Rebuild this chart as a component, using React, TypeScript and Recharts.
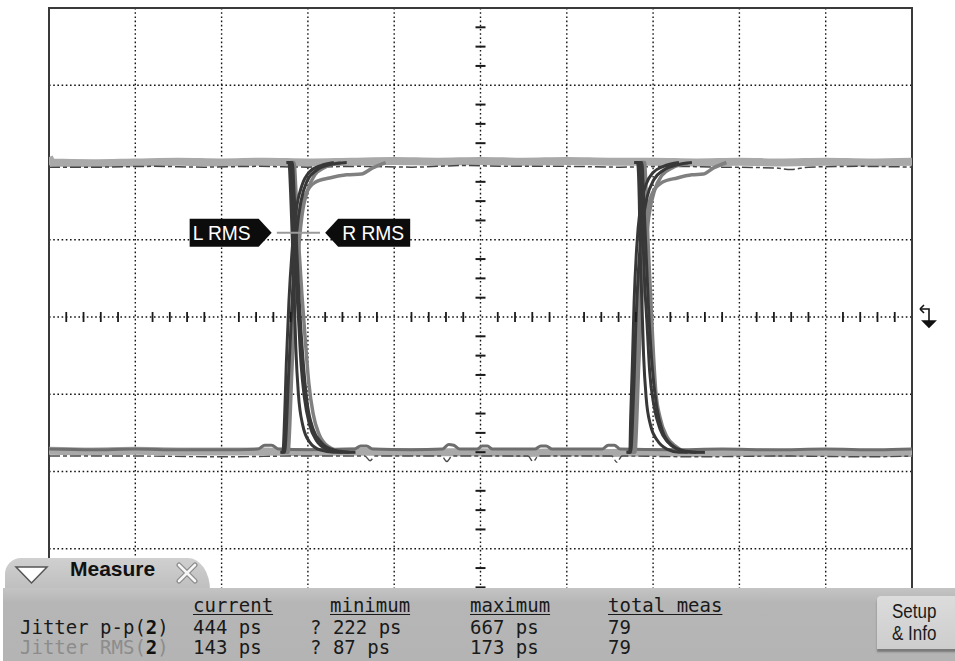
import React from "react";
import {
  ComposedChart,
  Line,
  Scatter,
  XAxis,
  YAxis,
  CartesianGrid,
  ReferenceArea,
  ReferenceDot,
  ReferenceLine,
} from "recharts";

// screen divisions: 10 horizontal, 8 vertical
const xGrid = [0, 1, 2, 3, 4, 5, 6, 7, 8, 9, 10];
const yGrid = [-4, -3, -2, -1, 0, 1, 2, 3, 4];

// minor ticks on the centre axes
const hMinor = [
  0.2, 0.4, 0.6, 0.8, 1.2, 1.4, 1.6, 1.8, 2.2, 2.4, 2.6, 2.8, 3.2, 3.4, 3.6, 3.8,
  4.2, 4.4, 4.6, 4.8, 5.2, 5.4, 5.6, 5.8, 6.2, 6.4, 6.6, 6.8, 7.2, 7.4, 7.6, 7.8,
  8.2, 8.4, 8.6, 8.8, 9.2, 9.4, 9.6, 9.8,
];
const vMinor = [
  -3.75, -3.5, -3.25, -2.75, -2.5, -2.25, -1.75, -1.5, -1.25, -0.75, -0.5, -0.25,
  0.25, 0.5, 0.75, 1.25, 1.5, 1.75, 2.25, 2.5, 2.75, 3.25, 3.5, 3.75,
];

// level bands (x in div, y in div)
const highBand = [
  [0, 2.07], [0.04, 2.0], [0.5, 1.99], [1, 2.0], [1.5, 2.01], [2, 2.0], [2.5, 2.01],
  [3, 2.0], [3.5, 2.01], [4, 2.02], [4.5, 2.01], [5, 2.02], [5.5, 2.01], [6, 2.02],
  [6.5, 2.01], [7, 2.01], [7.5, 2.0], [8, 2.01], [8.5, 2.0], [9, 2.01], [9.5, 2.0], [10, 2.01],
];
const highEdge = [
  [0, 1.94], [0.6, 1.94], [1.2, 1.95], [1.8, 1.94], [2.4, 1.95], [3.0, 1.94], [3.6, 1.95],
  [4.2, 1.94], [4.8, 1.96], [5.4, 1.95], [6.0, 1.95], [6.6, 1.94], [7.2, 1.95], [7.8, 1.94],
  [8.4, 1.93], [8.6, 1.91], [8.8, 1.94], [9.4, 1.95], [10, 1.94],
];
const lowBand = [
  [0, -1.73], [0.5, -1.74], [1, -1.73], [1.5, -1.74], [2, -1.74], [2.5, -1.74], [3, -1.75],
  [3.5, -1.74], [4, -1.75], [4.5, -1.75], [5, -1.75], [5.5, -1.76], [6, -1.75], [6.5, -1.76],
  [7, -1.75], [7.5, -1.76], [8, -1.75], [8.5, -1.76], [9, -1.75], [9.5, -1.76], [10, -1.76],
];
const lowDetail = [
  [0, -1.71], [0.5, -1.72], [1, -1.71], [1.5, -1.72], [2, -1.72], [2.42, -1.71], [2.5, -1.66],
  [2.58, -1.66], [2.66, -1.71], [3.0, -1.72], [3.54, -1.71], [3.61, -1.67], [3.68, -1.67],
  [3.75, -1.71], [4.2, -1.72], [4.56, -1.71], [4.63, -1.65], [4.69, -1.66], [4.76, -1.71],
  [4.96, -1.71], [5.02, -1.67], [5.08, -1.67], [5.14, -1.71], [5.63, -1.71], [5.7, -1.67],
  [5.76, -1.67], [5.83, -1.71], [6.41, -1.71], [6.48, -1.66], [6.55, -1.66], [6.62, -1.71],
  [7.2, -1.72], [7.8, -1.71], [8.4, -1.72], [9.0, -1.71], [9.6, -1.72], [10, -1.71],
];
const lowDips = [
  [0, -1.8], [1, -1.8], [2, -1.81], [2.9, -1.8], [3.66, -1.8], [3.72, -1.86], [3.78, -1.8],
  [4.55, -1.8], [4.61, -1.87], [4.67, -1.8], [5.55, -1.8], [5.61, -1.87], [5.67, -1.8],
  [6.52, -1.8], [6.58, -1.88], [6.64, -1.8], [7.5, -1.81], [8.5, -1.8], [9.5, -1.81], [10, -1.8],
];

// edges around the first crossing
const fall1a = [[2.76, 2.0], [2.8, 2.0], [2.82, 1.7], [2.84, 1.2], [2.86, 0.6], [2.89, 0.0], [2.92, -0.6], [2.96, -1.05], [3.02, -1.4], [3.1, -1.6], [3.22, -1.71], [3.4, -1.75], [3.55, -1.75]];
const fall1b = [[2.8, 2.0], [2.84, 2.0], [2.86, 1.65], [2.89, 1.0], [2.93, 0.3], [2.97, -0.3], [3.01, -0.85], [3.06, -1.25], [3.13, -1.52], [3.24, -1.68], [3.42, -1.75], [3.55, -1.75]];
const fall1c = [[2.75, 2.0], [2.78, 2.0], [2.8, 1.6], [2.82, 1.0], [2.84, 0.3], [2.86, -0.4], [2.89, -1.0], [2.94, -1.4], [3.02, -1.62], [3.14, -1.72], [3.3, -1.75], [3.4, -1.75]];
const fall1d = [[2.79, 2.0], [2.82, 2.0], [2.84, 1.6], [2.87, 0.9], [2.9, 0.2], [2.94, -0.5], [2.99, -1.1], [3.06, -1.45], [3.16, -1.63], [3.3, -1.72], [3.48, -1.75]];
const rise1a = [[2.69, -1.75], [2.73, -1.75], [2.75, -1.45], [2.77, -0.9], [2.8, -0.2], [2.83, 0.5], [2.87, 1.1], [2.92, 1.5], [2.99, 1.76], [3.1, 1.9], [3.25, 1.97], [3.45, 2.0]];
const rise1b = [[2.73, -1.75], [2.77, -1.75], [2.79, -1.4], [2.81, -0.8], [2.84, -0.05], [2.88, 0.7], [2.93, 1.3], [3.0, 1.65], [3.08, 1.84], [3.2, 1.94], [3.38, 2.0]];
const rise1c = [[2.68, -1.75], [2.71, -1.75], [2.73, -1.3], [2.75, -0.6], [2.78, 0.2], [2.82, 0.9], [2.86, 1.35], [2.93, 1.7], [3.02, 1.88], [3.15, 1.96], [3.3, 2.0]];
const rise1d = [[2.71, -1.75], [2.75, -1.75], [2.77, -1.35], [2.79, -0.7], [2.82, 0.1], [2.86, 0.8], [2.91, 1.3], [2.98, 1.6], [3.08, 1.74], [3.25, 1.8], [3.45, 1.84], [3.62, 1.85], [3.75, 1.93], [3.9, 2.0]];

// edges around the second crossing
const fall2a = [[6.8, 2.0], [6.84, 2.0], [6.86, 1.7], [6.88, 1.1], [6.9, 0.5], [6.93, -0.1], [6.96, -0.7], [7.01, -1.15], [7.08, -1.45], [7.17, -1.62], [7.28, -1.71], [7.45, -1.75], [7.6, -1.75]];
const fall2b = [[6.86, 2.0], [6.9, 2.0], [6.92, 1.6], [6.94, 1.0], [6.97, 0.3], [7.0, -0.4], [7.03, -0.95], [7.08, -1.3], [7.16, -1.55], [7.27, -1.68], [7.42, -1.75], [7.6, -1.75]];
const fall2c = [[6.78, 2.0], [6.82, 2.0], [6.84, 1.5], [6.85, 0.9], [6.87, 0.2], [6.89, -0.5], [6.92, -1.05], [6.97, -1.4], [7.05, -1.6], [7.16, -1.71], [7.3, -1.75], [7.4, -1.75]];
const fall2d = [[6.83, 2.0], [6.87, 2.0], [6.89, 1.55], [6.92, 0.8], [6.95, 0.05], [6.99, -0.65], [7.04, -1.15], [7.11, -1.48], [7.21, -1.65], [7.35, -1.73], [7.5, -1.75]];
const rise2a = [[6.7, -1.75], [6.74, -1.75], [6.76, -1.4], [6.78, -0.8], [6.8, -0.1], [6.83, 0.6], [6.87, 1.15], [6.93, 1.55], [7.01, 1.78], [7.12, 1.9], [7.28, 1.97], [7.45, 2.0]];
const rise2b = [[6.75, -1.75], [6.79, -1.75], [6.81, -1.35], [6.83, -0.7], [6.86, 0.05], [6.9, 0.75], [6.95, 1.3], [7.02, 1.65], [7.1, 1.83], [7.22, 1.93], [7.4, 1.99]];
const rise2c = [[6.69, -1.75], [6.73, -1.75], [6.74, -1.3], [6.76, -0.6], [6.78, 0.2], [6.81, 0.9], [6.85, 1.4], [6.92, 1.72], [7.0, 1.87], [7.12, 1.95], [7.3, 2.0]];
const rise2d = [[6.72, -1.75], [6.76, -1.75], [6.78, -1.35], [6.8, -0.7], [6.83, 0.1], [6.87, 0.8], [6.92, 1.3], [6.99, 1.6], [7.1, 1.74], [7.28, 1.8], [7.45, 1.84], [7.58, 1.85], [7.7, 1.93], [7.85, 2.0]];

const darkEdges = [fall1a, fall1c, fall1d, rise1a, rise1c, fall2a, fall2c, fall2d, rise2a, rise2c];
const greyEdges = [fall1b, rise1b, rise1d, fall2b, rise2b, rise2d];

const markers = [
  { text: "L RMS", x: 2.58, y: 1.09, side: "left" },
  { text: "R RMS", x: 3.2, y: 1.09, side: "right" },
];
const rmsSpan = [2.64, 3.14];

const headers = ["current", "minimum", "maximum", "total meas"];
const rowNames = ["Jitter p-p", "Jitter RMS"];
const current = ["444 ps", "143 ps"];
const minimum = ["222 ps", "87 ps"];
const maximum = ["667 ps", "173 ps"];
const totals = ["79", "79"];

const pts = (a: number[][]) => a.map(([x, y]) => ({ x, y }));

const mono = "'DejaVu Sans Mono', 'Liberation Mono', monospace";
const sans = "'Liberation Sans', Arial, sans-serif";

function MarkerShape(props: any) {
  const { cx, cy, text, side } = props;
  const h = 14;
  const pointsStr =
    side === "left"
      ? `${cx - 82},${cy - h} ${cx - 13},${cy - h} ${cx},${cy} ${cx - 13},${cy + h} ${cx - 82},${cy + h}`
      : `${cx},${cy} ${cx + 13},${cy - h} ${cx + 85},${cy - h} ${cx + 85},${cy + h} ${cx + 13},${cy + h}`;
  const tx = side === "left" ? cx - 79 : cx + 17;
  return (
    <g>
      <polygon points={pointsStr} fill="#0c0c0c" />
      <text
        x={tx}
        y={cy + 7.5}
        fill="#fff"
        fontFamily={sans}
        fontSize={21}
        textLength={side === "left" ? 58 : 62}
        lengthAdjust="spacingAndGlyphs"
      >
        {text}
      </text>
    </g>
  );
}

function TriggerShape(props: any) {
  const { cx, cy } = props;
  const x = cx + 15;
  const y = cy - 8;
  return (
    <g stroke="#111" strokeWidth={1.6} fill="none">
      <path d={`M ${x - 7} ${y} L ${x + 2} ${y} L ${x + 2} ${y + 12}`} />
      <path d={`M ${x - 7} ${y} L ${x - 3} ${y - 4} M ${x - 7} ${y} L ${x - 3} ${y + 4}`} />
      <polygon points={`${x - 4},${y + 12} ${x + 8},${y + 12} ${x + 2},${y + 18}`} fill="#111" />
    </g>
  );
}

export default function App() {
  const cellStyle: React.CSSProperties = {
    position: "absolute",
    fontFamily: mono,
    fontSize: 19,
    color: "#1a1a1a",
    whiteSpace: "pre",
    lineHeight: "20px",
  };
  const headerX = [193, 330, 470, 608];
  const rowY = [617, 637];
  return (
    <div
      style={{
        position: "absolute",
        left: 0,
        top: 0,
        width: 955,
        height: 661,
        background: "#fff",
        overflow: "hidden",
      }}
    >
      <ComposedChart
        width={955}
        height={661}
        margin={{ top: 8, right: 43, bottom: 35, left: 49 }}
      >
        <XAxis dataKey="x" type="number" domain={[0, 10]} ticks={xGrid} hide allowDataOverflow />
        <YAxis type="number" domain={[-4, 4]} ticks={yGrid} hide allowDataOverflow />
        <CartesianGrid stroke="#151515" strokeDasharray="1.6 2.6" strokeWidth={1.4} />
        <ReferenceArea x1={0} x2={10} y1={-4} y2={4} fill="none" stroke="#3a3a3a" strokeWidth={2} fillOpacity={0} />

        <Scatter
          data={hMinor.map((x) => ({ x, y: 0 }))}
          dataKey="y"
          isAnimationActive={false}
          shape={(p: any) => (
            <line x1={p.cx} x2={p.cx} y1={p.cy - 5} y2={p.cy + 5} stroke="#1a1a1a" strokeWidth={1.8} />
          )}
        />
        <Scatter
          data={vMinor.map((y) => ({ x: 5, y }))}
          dataKey="y"
          isAnimationActive={false}
          shape={(p: any) => (
            <line x1={p.cx - 5} x2={p.cx + 5} y1={p.cy} y2={p.cy} stroke="#1a1a1a" strokeWidth={2} />
          )}
        />

        <Line data={pts(highBand)} dataKey="y" type="monotone" stroke="#a9a9a9" strokeWidth={8} dot={false} isAnimationActive={false} />
        <Line data={pts(highEdge)} dataKey="y" type="monotone" stroke="#444" strokeWidth={1.5} strokeDasharray="11 3 4 3" dot={false} isAnimationActive={false} />
        <Line data={pts(lowBand)} dataKey="y" type="monotone" stroke="#a9a9a9" strokeWidth={8} dot={false} isAnimationActive={false} />
        <Line data={pts(lowDetail)} dataKey="y" type="monotone" stroke="#6e6e6e" strokeWidth={3} strokeLinejoin="round" dot={false} isAnimationActive={false} />
        <Line data={pts(lowDips)} dataKey="y" type="monotone" stroke="#4a4a4a" strokeWidth={1.4} strokeDasharray="11 3 4 3" dot={false} isAnimationActive={false} />

        {greyEdges.map((t, i) => (
          <Line key={"g" + i} data={pts(t)} dataKey="y" type="monotone" stroke="#808080" strokeWidth={3.5} dot={false} isAnimationActive={false} />
        ))}
        {darkEdges.map((t, i) => (
          <Line key={"d" + i} data={pts(t)} dataKey="y" type="monotone" stroke="#383838" strokeWidth={3} dot={false} isAnimationActive={false} />
        ))}

        <ReferenceLine
          segment={[
            { x: rmsSpan[0], y: markers[0].y },
            { x: rmsSpan[1], y: markers[0].y },
          ]}
          stroke="#9a9a9a"
          strokeWidth={2}
        />
        {markers.map((m) => (
          <ReferenceDot
            key={m.text}
            x={m.x}
            y={m.y}
            r={0}
            ifOverflow="visible"
            shape={(p: any) => <MarkerShape {...p} text={m.text} side={m.side} />}
          />
        ))}
        <ReferenceDot x={10} y={0} r={0} ifOverflow="visible" shape={(p: any) => <TriggerShape {...p} />} />
      </ComposedChart>

      {/* Measure tab */}
      <div
        style={{
          position: "absolute",
          left: 5,
          top: 558,
          width: 205,
          height: 34,
          background: "linear-gradient(#d0d0d0, #bdbdbd)",
          borderTopLeftRadius: 16,
          borderTopRightRadius: "22px 32px",
        }}
      />
      <svg style={{ position: "absolute", left: 14, top: 565 }} width={36} height={20}>
        <polygon points="2,2 33,2 17.5,18" fill="#fff" stroke="#555" strokeWidth={1.5} />
      </svg>
      <div
        style={{
          position: "absolute",
          left: 70,
          top: 557,
          fontFamily: sans,
          fontWeight: "bold",
          fontSize: 21,
          color: "#111",
        }}
      >
        Measure
      </div>
      <svg style={{ position: "absolute", left: 175, top: 562 }} width={24} height={22}>
        <path d="M 4 3 L 20 19 M 20 3 L 4 19" stroke="#8a8a8a" strokeWidth={5} strokeLinecap="round" />
        <path d="M 4 3 L 20 19 M 20 3 L 4 19" stroke="#f6f6f6" strokeWidth={2.6} strokeLinecap="round" />
      </svg>

      {/* Measure panel */}
      <div
        style={{
          position: "absolute",
          left: 3,
          top: 588,
          width: 952,
          height: 73,
          background: "linear-gradient(#c4c4c4, #b6b6b6 20%, #b4b4b4)",
        }}
      />
      {headers.map((h, i) => (
        <div
          key={h}
          style={{
            ...cellStyle,
            left: headerX[i],
            top: 595,
            textDecoration: "underline",
            textUnderlineOffset: 2,
          }}
        >
          {h}
        </div>
      ))}
      {rowNames.map((name, r) => (
        <React.Fragment key={name}>
          <div style={{ ...cellStyle, left: 20, top: rowY[r], color: r === 0 ? "#1a1a1a" : "#8c8c8c" }}>
            {name}(<b style={{ color: "#111" }}>2</b>)
          </div>
          <div style={{ ...cellStyle, left: headerX[0], top: rowY[r] }}>{current[r]}</div>
          <div style={{ ...cellStyle, left: 310, top: rowY[r] }}>{"? " + minimum[r]}</div>
          <div style={{ ...cellStyle, left: headerX[2], top: rowY[r] }}>{maximum[r]}</div>
          <div style={{ ...cellStyle, left: headerX[3], top: rowY[r] }}>{totals[r]}</div>
        </React.Fragment>
      ))}

      {/* Setup & Info button */}
      <div
        style={{
          position: "absolute",
          left: 877,
          top: 596,
          width: 80,
          height: 53,
          background: "linear-gradient(#dcdcdc, #cdcdcd)",
          borderTopLeftRadius: 4,
          boxShadow: "0 3px 2px #7a7a7a",
        }}
      />
      <div
        style={{
          position: "absolute",
          left: 892,
          top: 600,
          fontFamily: sans,
          fontSize: 20,
          lineHeight: "22px",
          color: "#1a1a1a",
          transform: "scaleX(0.85)",
          transformOrigin: "left top",
        }}
      >
        Setup
        <br />& Info
      </div>
    </div>
  );
}
